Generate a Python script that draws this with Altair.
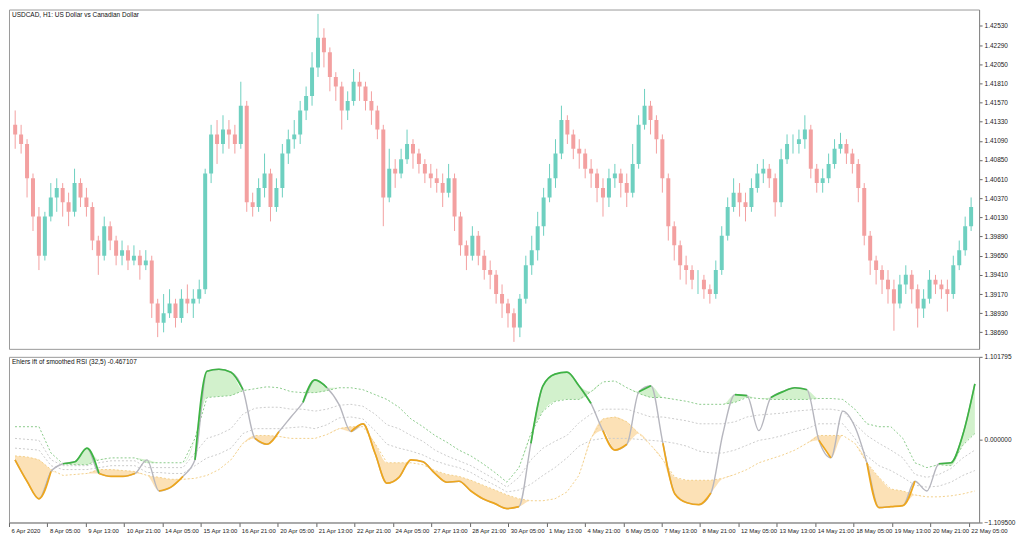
import json
import altair as alt
import pandas as pd

FONT = "Liberation Sans"
title_top = "USDCAD, H1:  US Dollar vs Canadian Dollar"
title_ind = "Ehlers ift of smoothed RSI (32,5) -0.467107"

time_labels = ["6 Apr 2020", "8 Apr 05:00", "9 Apr 13:00", "10 Apr 21:00", "14 Apr 05:00",
               "15 Apr 13:00", "16 Apr 21:00", "20 Apr 05:00", "21 Apr 13:00", "22 Apr 21:00",
               "24 Apr 05:00", "27 Apr 13:00", "28 Apr 21:00", "30 Apr 05:00", "1 May 13:00",
               "4 May 21:00", "6 May 05:00", "7 May 13:00", "8 May 21:00", "12 May 05:00",
               "13 May 13:00", "14 May 21:00", "18 May 05:00", "19 May 13:00", "20 May 21:00",
               "22 May 05:00"]
BARS_PER_LABEL = 32

price_ticks = [1.38690, 1.38930, 1.39170, 1.39410, 1.39650, 1.39890, 1.40130, 1.40370, 1.40610,
               1.40850, 1.41090, 1.41330, 1.41570, 1.41810, 1.42050, 1.42290, 1.42530]
ind_ticks = [-1.109500, 0.0, 1.101795]

# ---- candles (each drawn candle spans 5 hourly bars) ----
CANDLE_START, CANDLE_STEP = 1, 5
open_px = [
    1.4129, 1.4117, 1.4105, 1.4062, 1.4014, 1.3965, 1.4014, 1.4038, 1.4050, 1.4032,
    1.4020, 1.4056, 1.4038, 1.4026, 1.3984, 1.3965, 1.4002, 1.3984, 1.3965, 1.3972,
    1.3959, 1.3965, 1.3953, 1.3959, 1.3905, 1.3881, 1.3893, 1.3905, 1.3887, 1.3911,
    1.3905, 1.3911, 1.3923, 1.4068, 1.4117, 1.4105, 1.4123, 1.4117, 1.4105, 1.4153,
    1.4032, 1.4026, 1.4050, 1.4068, 1.4026, 1.4050, 1.4093, 1.4111, 1.4117, 1.4147,
    1.4165, 1.4201, 1.4238, 1.4220, 1.4189, 1.4177, 1.4147, 1.4159, 1.4183, 1.4177,
    1.4159, 1.4147, 1.4123, 1.4038, 1.4074, 1.4068, 1.4086, 1.4105, 1.4093, 1.4080,
    1.4068, 1.4062, 1.4056, 1.4044, 1.4062, 1.4014, 1.3978, 1.3965, 1.3990, 1.3965,
    1.3947, 1.3941, 1.3917, 1.3905, 1.3893, 1.3875, 1.3911, 1.3953, 1.3972, 1.4002,
    1.4038, 1.4062, 1.4093, 1.4135, 1.4117, 1.4099, 1.4093, 1.4074, 1.4068, 1.4050,
    1.4038, 1.4062, 1.4068, 1.4056, 1.4044, 1.4080, 1.4129, 1.4153, 1.4135, 1.4111,
    1.4062, 1.4002, 1.3978, 1.3953, 1.3947, 1.3935, 1.3935, 1.3923, 1.3917, 1.3947,
    1.3990, 1.4026, 1.4044, 1.4032, 1.4026, 1.4050, 1.4068, 1.4074, 1.4062, 1.4032,
    1.4086, 1.4105, 1.4105, 1.4111, 1.4123, 1.4074, 1.4056, 1.4062, 1.4080, 1.4099,
    1.4105, 1.4093, 1.4080, 1.4050, 1.3990, 1.3959, 1.3947, 1.3935, 1.3923, 1.3905,
    1.3929, 1.3941, 1.3923, 1.3899, 1.3911, 1.3935, 1.3929, 1.3923, 1.3917, 1.3953,
    1.3972, 1.4002]
high_px = [
    1.4147, 1.4129, 1.4111, 1.4068, 1.4026, 1.4020, 1.4056, 1.4062, 1.4056, 1.4044,
    1.4074, 1.4062, 1.4050, 1.4032, 1.3990, 1.4014, 1.4008, 1.3990, 1.3984, 1.3978,
    1.3978, 1.3972, 1.3972, 1.3965, 1.3911, 1.3917, 1.3923, 1.3911, 1.3923, 1.3929,
    1.3923, 1.3935, 1.4074, 1.4129, 1.4135, 1.4141, 1.4135, 1.4129, 1.4183, 1.4159,
    1.4044, 1.4062, 1.4093, 1.4074, 1.4062, 1.4105, 1.4123, 1.4135, 1.4159, 1.4177,
    1.4220, 1.4268, 1.4250, 1.4226, 1.4195, 1.4183, 1.4171, 1.4199, 1.4195, 1.4183,
    1.4171, 1.4153, 1.4129, 1.4099, 1.4086, 1.4099, 1.4123, 1.4111, 1.4099, 1.4086,
    1.4080, 1.4074, 1.4068, 1.4080, 1.4068, 1.4020, 1.3984, 1.4002, 1.3996, 1.3972,
    1.3959, 1.3947, 1.3929, 1.3911, 1.3899, 1.3917, 1.3965, 1.3990, 1.4020, 1.4050,
    1.4080, 1.4111, 1.4153, 1.4141, 1.4123, 1.4111, 1.4099, 1.4086, 1.4074, 1.4062,
    1.4074, 1.4080, 1.4074, 1.4068, 1.4105, 1.4141, 1.4174, 1.4159, 1.4141, 1.4117,
    1.4068, 1.4008, 1.3984, 1.3965, 1.3953, 1.3947, 1.3941, 1.3929, 1.3959, 1.4002,
    1.4038, 1.4062, 1.4056, 1.4044, 1.4062, 1.4080, 1.4086, 1.4080, 1.4068, 1.4099,
    1.4117, 1.4117, 1.4123, 1.4141, 1.4129, 1.4080, 1.4074, 1.4093, 1.4111, 1.4119,
    1.4111, 1.4099, 1.4086, 1.4056, 1.3996, 1.3965, 1.3953, 1.3947, 1.3935, 1.3941,
    1.3953, 1.3947, 1.3929, 1.3923, 1.3947, 1.3941, 1.3935, 1.3935, 1.3965, 1.3984,
    1.4014, 1.4038]
low_px = [
    1.4099, 1.4093, 1.4038, 1.3996, 1.3947, 1.3959, 1.4008, 1.4020, 1.4014, 1.4002,
    1.4014, 1.4026, 1.4014, 1.3972, 1.3941, 1.3959, 1.3972, 1.3953, 1.3953, 1.3947,
    1.3953, 1.3935, 1.3947, 1.3887, 1.3863, 1.3869, 1.3887, 1.3875, 1.3881, 1.3893,
    1.3887, 1.3905, 1.3917, 1.4056, 1.4080, 1.4093, 1.4099, 1.4093, 1.4099, 1.4020,
    1.4014, 1.4020, 1.4038, 1.4008, 1.4020, 1.4038, 1.4080, 1.4099, 1.4105, 1.4135,
    1.4153, 1.4189, 1.4201, 1.4171, 1.4159, 1.4123, 1.4135, 1.4153, 1.4159, 1.4147,
    1.4129, 1.4111, 1.4002, 1.4032, 1.4050, 1.4062, 1.4080, 1.4074, 1.4068, 1.4056,
    1.4050, 1.4044, 1.4026, 1.4038, 1.3996, 1.3965, 1.3947, 1.3959, 1.3953, 1.3935,
    1.3923, 1.3905, 1.3887, 1.3875, 1.3857, 1.3863, 1.3905, 1.3941, 1.3959, 1.3990,
    1.4032, 1.4050, 1.4086, 1.4105, 1.4086, 1.4074, 1.4062, 1.4050, 1.4032, 1.4014,
    1.4026, 1.4050, 1.4038, 1.4026, 1.4038, 1.4074, 1.4123, 1.4117, 1.4093, 1.4044,
    1.3984, 1.3959, 1.3935, 1.3929, 1.3923, 1.3917, 1.3911, 1.3905, 1.3911, 1.3941,
    1.3984, 1.4020, 1.4014, 1.4008, 1.4020, 1.4044, 1.4056, 1.4050, 1.4014, 1.4026,
    1.4080, 1.4093, 1.4093, 1.4099, 1.4062, 1.4044, 1.4044, 1.4056, 1.4074, 1.4093,
    1.4080, 1.4068, 1.4032, 1.3978, 1.3941, 1.3929, 1.3917, 1.3905, 1.3871, 1.3899,
    1.3917, 1.3905, 1.3875, 1.3887, 1.3905, 1.3917, 1.3911, 1.3895, 1.3911, 1.3947,
    1.3965, 1.3996]
close_px = [
    1.4117, 1.4105, 1.4062, 1.4014, 1.3965, 1.4014, 1.4038, 1.4050, 1.4032, 1.4020,
    1.4056, 1.4038, 1.4026, 1.3984, 1.3965, 1.4002, 1.3984, 1.3965, 1.3972, 1.3959,
    1.3965, 1.3953, 1.3959, 1.3905, 1.3881, 1.3893, 1.3905, 1.3887, 1.3911, 1.3905,
    1.3911, 1.3923, 1.4068, 1.4117, 1.4105, 1.4123, 1.4117, 1.4105, 1.4153, 1.4032,
    1.4026, 1.4050, 1.4068, 1.4026, 1.4050, 1.4093, 1.4111, 1.4117, 1.4147, 1.4165,
    1.4201, 1.4238, 1.4220, 1.4189, 1.4177, 1.4147, 1.4159, 1.4183, 1.4177, 1.4159,
    1.4147, 1.4123, 1.4038, 1.4074, 1.4068, 1.4086, 1.4105, 1.4093, 1.4080, 1.4068,
    1.4062, 1.4056, 1.4044, 1.4062, 1.4014, 1.3978, 1.3965, 1.3990, 1.3965, 1.3947,
    1.3941, 1.3917, 1.3905, 1.3893, 1.3875, 1.3911, 1.3953, 1.3972, 1.4002, 1.4038,
    1.4062, 1.4093, 1.4135, 1.4117, 1.4099, 1.4093, 1.4074, 1.4068, 1.4050, 1.4038,
    1.4062, 1.4068, 1.4056, 1.4044, 1.4080, 1.4129, 1.4153, 1.4135, 1.4111, 1.4062,
    1.4002, 1.3978, 1.3953, 1.3947, 1.3935, 1.3935, 1.3923, 1.3917, 1.3947, 1.3990,
    1.4026, 1.4044, 1.4032, 1.4026, 1.4050, 1.4068, 1.4074, 1.4062, 1.4032, 1.4086,
    1.4105, 1.4105, 1.4111, 1.4123, 1.4074, 1.4056, 1.4062, 1.4080, 1.4099, 1.4105,
    1.4093, 1.4080, 1.4050, 1.3990, 1.3959, 1.3947, 1.3935, 1.3923, 1.3905, 1.3929,
    1.3941, 1.3923, 1.3899, 1.3911, 1.3935, 1.3929, 1.3923, 1.3917, 1.3953, 1.3972,
    1.4002, 1.4026]

# ---- indicator (sampled every 10 bars) ----
IND_START, IND_STEP = 5, 10
ift = [
    -0.273, -0.559, -0.793, -0.429, -0.325, -0.299, -0.117, -0.455, -0.494, -0.494,
    -0.455, -0.273, -0.689, -0.637, -0.494, -0.273, 0.910, 0.936, 0.897, 0.663,
    0.013, -0.065, 0.104, 0.299, 0.494, 0.793, 0.689, 0.468, 0.104, 0.208,
    -0.182, -0.585, -0.507, -0.273, -0.299, -0.455, -0.572, -0.559, -0.689, -0.793,
    -0.858, -0.923, -0.897, -0.052, 0.715, 0.871, 0.897, 0.715, 0.481, 0.117,
    -0.143, -0.065, 0.637, 0.715, -0.052, -0.728, -0.845, -0.871, -0.715, 0.078,
    0.598, 0.585, 0.117, 0.559, 0.637, 0.689, 0.663, -0.013, -0.247, 0.377,
    0.169, -0.312, -0.910, -0.897, -0.884, -0.559, -0.689, -0.325, -0.312, 0.065,
    0.741]
lvl_up = [
    0.169, 0.169, 0.169, -0.182, -0.325, -0.338, -0.338, -0.273, -0.247, -0.247,
    -0.247, -0.312, -0.312, -0.312, -0.312, 0.013, 0.559, 0.572, 0.585, 0.650,
    0.676, 0.702, 0.689, 0.637, 0.624, 0.624, 0.650, 0.689, 0.689, 0.663,
    0.598, 0.533, 0.429, 0.273, 0.169, 0.052, -0.039, -0.143, -0.221, -0.325,
    -0.442, -0.572, -0.377, 0.078, 0.377, 0.507, 0.533, 0.533, 0.637, 0.767,
    0.780, 0.689, 0.611, 0.559, 0.559, 0.533, 0.507, 0.468, 0.468, 0.468,
    0.494, 0.559, 0.546, 0.533, 0.533, 0.533, 0.533, 0.546, 0.546, 0.533,
    0.403, 0.208, 0.169, 0.169, 0.013, -0.312, -0.377, -0.338, -0.351, -0.078,
    0.078]
lvl_midup = [
    0.013, 0.000, -0.013, -0.273, -0.351, -0.351, -0.351, -0.312, -0.286, -0.286,
    -0.286, -0.377, -0.377, -0.377, -0.377, -0.182, 0.013, 0.065, 0.143, 0.338,
    0.416, 0.429, 0.429, 0.403, 0.403, 0.377, 0.403, 0.455, 0.468, 0.442,
    0.338, 0.195, 0.143, 0.052, -0.026, -0.143, -0.221, -0.286, -0.351, -0.442,
    -0.533, -0.637, -0.507, -0.273, -0.117, -0.026, 0.052, 0.221, 0.338, 0.403,
    0.403, 0.403, 0.351, 0.299, 0.299, 0.273, 0.247, 0.208, 0.208, 0.208,
    0.234, 0.299, 0.325, 0.338, 0.351, 0.377, 0.390, 0.403, 0.403, 0.377,
    0.208, 0.052, -0.052, -0.143, -0.247, -0.468, -0.507, -0.468, -0.390, -0.247,
    -0.143]
lvl_midlow = [
    -0.117, -0.130, -0.143, -0.351, -0.403, -0.403, -0.403, -0.377, -0.351, -0.351,
    -0.351, -0.442, -0.442, -0.455, -0.455, -0.351, -0.247, -0.195, -0.117, 0.078,
    0.143, 0.143, 0.143, 0.156, 0.169, 0.143, 0.195, 0.286, 0.299, 0.273,
    0.117, -0.065, -0.117, -0.156, -0.208, -0.286, -0.338, -0.377, -0.442, -0.533,
    -0.611, -0.702, -0.676, -0.598, -0.481, -0.377, -0.247, -0.091, -0.013, 0.013,
    0.013, 0.013, 0.000, -0.013, -0.026, -0.052, -0.091, -0.156, -0.182, -0.182,
    -0.143, -0.078, -0.013, 0.013, 0.052, 0.104, 0.143, 0.208, 0.208, 0.208,
    0.013, -0.221, -0.351, -0.416, -0.507, -0.611, -0.637, -0.624, -0.572, -0.481,
    -0.416]
lvl_low = [
    -0.221, -0.234, -0.273, -0.403, -0.481, -0.468, -0.455, -0.403, -0.403, -0.416,
    -0.429, -0.481, -0.507, -0.533, -0.533, -0.520, -0.481, -0.403, -0.273, -0.052,
    0.052, 0.052, 0.039, 0.013, 0.013, 0.013, 0.065, 0.143, 0.169, 0.169,
    -0.052, -0.312, -0.312, -0.312, -0.338, -0.416, -0.468, -0.494, -0.546, -0.611,
    -0.676, -0.741, -0.793, -0.819, -0.819, -0.793, -0.702, -0.481, 0.013, 0.273,
    0.299, 0.234, 0.078, -0.078, -0.273, -0.507, -0.546, -0.546, -0.546, -0.520,
    -0.468, -0.403, -0.312, -0.260, -0.208, -0.143, -0.052, 0.052, 0.052, 0.052,
    -0.052, -0.312, -0.507, -0.663, -0.689, -0.741, -0.767, -0.767, -0.754, -0.728,
    -0.689]

candles = pd.DataFrame({
    "bar": [CANDLE_START + CANDLE_STEP * i for i in range(len(close_px))],
    "open": open_px, "high": high_px, "low": low_px, "close": close_px,
})
ind = pd.DataFrame({
    "bar": [IND_START + IND_STEP * j for j in range(len(ift))],
    "ift": ift, "up": lvl_up, "mu": lvl_midup, "ml": lvl_midlow, "lo": lvl_low,
})

W, H_TOP, H_BOT = 972, 340, 166
UP_C, DOWN_C = "#6ed0c0", "#f3a0a0"
CURVE = "monotone"

xscale = alt.Scale(domain=[0, 808.5], nice=False, zero=False)

# ---------------- top: price panel ----------------
yprice = alt.Scale(domain=[1.38483, 1.42735], nice=False, zero=False)
yaxis_p = alt.Axis(orient="right", values=price_ticks, format=".5f", title=None, grid=False,
                   tickSize=3, labelPadding=2)
Xtop = alt.X("bar:Q", scale=xscale, axis=None)

base_c = alt.Chart(candles)
up_c = base_c.transform_filter("datum.close >= datum.open")
dn_c = base_c.transform_filter("datum.close < datum.open")

def wick(src, color):
    return src.mark_rule(strokeWidth=1, clip=True, color=color).encode(
        x=Xtop, y=alt.Y("low:Q", scale=yprice, axis=yaxis_p), y2="high:Q")

def body(src, color):
    return src.mark_bar(size=4, clip=True, color=color).encode(
        x=Xtop, y=alt.Y("open:Q", scale=yprice, axis=yaxis_p), y2="close:Q")

ttl_top = alt.Chart(pd.DataFrame({"t": [title_top]})).mark_text(
    align="left", baseline="top", fontSize=6.5, font=FONT, color="#111").encode(
    x=alt.value(3), y=alt.value(2), text="t:N")
top = alt.layer(wick(up_c, UP_C), wick(dn_c, DOWN_C), body(up_c, UP_C), body(dn_c, DOWN_C),
                ttl_top).properties(width=W, height=H_TOP)

# ---------------- bottom: indicator panel ----------------
yind = alt.Scale(domain=[-1.1095, 1.101795], nice=False, zero=False)
yaxis_i = alt.Axis(orient="right", values=ind_ticks, format=".6f", title=None, grid=False,
                   tickSize=3, labelPadding=2)
label_expr = json.dumps(time_labels) + "[round(datum.value / %d)]" % BARS_PER_LABEL
xaxis_b = alt.Axis(values=[BARS_PER_LABEL * k for k in range(len(time_labels))],
                   labelExpr=label_expr, labelAlign="left", labelOffset=2, labelPadding=1,
                   tickSize=4, grid=False, title=None, labelFlush=False, labelOverlap=False,
                   labelFontSize=6)
Xb = alt.X("bar:Q", scale=xscale, axis=xaxis_b)

base_i = alt.Chart(ind)
gfill = base_i.transform_calculate(gtop="max(datum.ift, datum.up)").mark_area(
    color="#cdefc7", opacity=0.9, interpolate=CURVE).encode(
    x=Xb, y=alt.Y("gtop:Q", scale=yind, axis=yaxis_i), y2="up:Q")
ofill = base_i.transform_calculate(obot="min(datum.ift, datum.lo)").mark_area(
    color="#fcdeae", opacity=0.9, interpolate=CURVE).encode(
    x=Xb, y=alt.Y("lo:Q", scale=yind, axis=yaxis_i), y2="obot:Q")

def band(field, color):
    return base_i.mark_line(strokeDash=[2, 2], strokeWidth=1, color=color).encode(
        x=Xb, y=alt.Y(f"{field}:Q", scale=yind, axis=yaxis_i))

b_up = band("up", "#8ccb8c")
b_mu = band("mu", "#cccccc")
b_ml = band("ml", "#cccccc")
b_lo = band("lo", "#f2d08c")

# colour state of each segment, then mark each point that touches a coloured segment
seg_state = base_i.transform_window(
    nift="lead(ift)", nup="lead(up)", nlo="lead(lo)", sort=[alt.SortField("bar")]
).transform_calculate(
    state="datum.nift == null ? 'n' : ((datum.ift + datum.nift) >= (datum.up + datum.nup) ? 'g' : "
          "((datum.ift + datum.nift) <= (datum.lo + datum.nlo) ? 'o' : 'n'))"
).transform_window(pstate="lag(state)", sort=[alt.SortField("bar")]).transform_calculate(
    gval="(datum.state == 'g' || datum.pstate == 'g') ? datum.ift : null",
    oval="(datum.state == 'o' || datum.pstate == 'o') ? datum.ift : null")

main_gray = base_i.mark_line(strokeWidth=1.4, color="#b6b6be", interpolate=CURVE).encode(
    x=Xb, y=alt.Y("ift:Q", scale=yind, axis=yaxis_i))
main_g = seg_state.mark_line(strokeWidth=1.7, color="#3db443", interpolate=CURVE).encode(
    x=Xb, y=alt.Y("gval:Q", scale=yind, axis=yaxis_i))
main_o = seg_state.mark_line(strokeWidth=1.7, color="#eea61c", interpolate=CURVE).encode(
    x=Xb, y=alt.Y("oval:Q", scale=yind, axis=yaxis_i))

ttl_ind = alt.Chart(pd.DataFrame({"t": [title_ind]})).mark_text(
    align="left", baseline="top", fontSize=6.5, font=FONT, color="#111").encode(
    x=alt.value(3), y=alt.value(2), text="t:N")

bottom = alt.layer(gfill, ofill, b_up, b_mu, b_ml, b_lo, main_gray, main_g, main_o,
                   ttl_ind).properties(width=W, height=H_BOT)

chart = alt.vconcat(top, bottom, spacing=3).properties(
    padding={"left": 0, "top": 0, "right": 0, "bottom": 0}, background="white"
).configure_view(stroke="#9a9a9a", strokeWidth=1).configure_axis(
    labelFont=FONT, labelFontSize=6.5, labelColor="#222", tickColor="#666",
    domainColor="#888")

chart.save("out.html", embed_options={"renderer": "svg", "actions": False})
